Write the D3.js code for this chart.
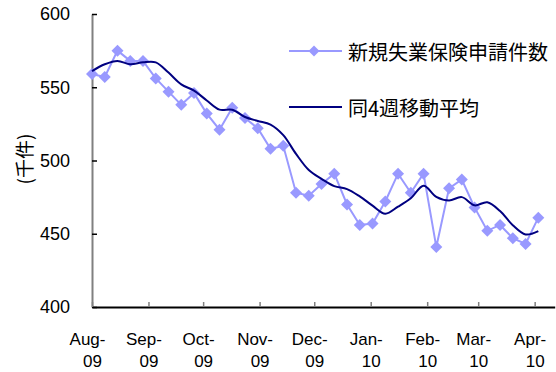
<!DOCTYPE html>
<html>
<head>
<meta charset="utf-8">
<script src="https://cdn.jsdelivr.net/npm/d3@7"></script>
<style>
  html, body { margin: 0; padding: 0; background: #fff; }
  svg { display: block; }
  text { font-family: "Liberation Sans", "Noto Sans CJK JP", sans-serif; fill: #000; }
  .cjk { font-family: "Noto Sans CJK JP", sans-serif; }
</style>
</head>
<body>
<svg id="chart" width="556" height="372"></svg>
<script>
// Weekly initial jobless claims (thousands), week ending Saturday
const weeks = [
  "2009-08-01","2009-08-08","2009-08-15","2009-08-22","2009-08-29",
  "2009-09-05","2009-09-12","2009-09-19","2009-09-26",
  "2009-10-03","2009-10-10","2009-10-17","2009-10-24","2009-10-31",
  "2009-11-07","2009-11-14","2009-11-21","2009-11-28",
  "2009-12-05","2009-12-12","2009-12-19","2009-12-26",
  "2010-01-02","2010-01-09","2010-01-16","2010-01-23","2010-01-30",
  "2010-02-06","2010-02-13","2010-02-20","2010-02-27",
  "2010-03-06","2010-03-13","2010-03-20","2010-03-27","2010-04-03"
];
const claims = [
  559, 557, 575, 568, 568, 556, 547, 538, 546, 532, 521, 536,
  529, 522, 508, 510, 478, 476, 484, 491, 470, 456, 457, 472,
  491, 478, 491, 441, 481, 487, 468, 452, 456, 447, 443, 461
];
const movingAvg = [
  561, 565.7, 568, 565.7, 567, 567, 560, 552, 547.7, 541, 534.7, 534.7,
  529.7, 527, 524.5, 517.3, 504.5, 493.5, 487.5, 482.5, 480.5, 475.5, 469.2, 463.7,
  468.5, 474.2, 482.8, 475.2, 472.7, 475, 469.4, 471.5, 465.5, 455.8, 449.5, 451.8
];
const seriesNames = ["新規失業保険申請件数", "同4週移動平均"];
const yTicks = [400, 450, 500, 550, 600];
const monthTicks = ["2009-08-01","2009-09-01","2009-10-01","2009-11-01","2009-12-01",
                    "2010-01-01","2010-02-01","2010-03-01","2010-04-01"];
const monthLabels = [["Aug-","09"],["Sep-","09"],["Oct-","09"],["Nov-","09"],["Dec-","09"],
                     ["Jan-","10"],["Feb-","10"],["Mar-","10"],["Apr-","10"]];
const yTitle = "(千件)";

const parse = d3.utcParse("%Y-%m-%d");
const dates = weeks.map(parse);
const tickDates = monthTicks.map(parse);

const svg = d3.select("#chart");
const plotLeft = 92, plotRight = 554.7, plotTop = 14, plotBottom = 307;

const x = d3.scaleUtc()
  .domain([parse("2009-08-01"), parse("2010-04-12")])
  .range([plotLeft, plotRight]);
const y = d3.scaleLinear().domain([400, 600]).range([plotBottom, plotTop]);

// Y axis: grey spine, dark inward ticks
const yAxis = svg.append("g")
  .attr("transform", `translate(${plotLeft},0)`)
  .call(d3.axisLeft(y).tickValues(yTicks).tickSizeInner(-5).tickSizeOuter(0).tickPadding(22));
yAxis.select(".domain").attr("stroke", "#808080").attr("stroke-width", 2);
yAxis.selectAll(".tick line").attr("stroke", "#000").attr("stroke-width", 1.5);
yAxis.selectAll(".tick text").attr("font-size", 18).attr("fill", "#000");

// X axis: dark spine, grey inward ticks, two-line month labels
const xAxis = svg.append("g")
  .attr("transform", `translate(0,${plotBottom})`)
  .call(d3.axisBottom(x).tickValues(tickDates).tickSizeInner(-5).tickSizeOuter(0).tickFormat(() => ""));
xAxis.select(".domain").attr("stroke", "#000").attr("stroke-width", 2);
xAxis.selectAll(".tick line").attr("stroke", "#808080").attr("stroke-width", 1.5);
xAxis.selectAll(".tick text").remove();
xAxis.selectAll(".tick").each(function(d, i) {
  const t = d3.select(this).append("text")
    .attr("font-size", 17).attr("text-anchor", "middle").attr("fill", "#000");
  t.append("tspan").attr("x", -5).attr("y", 38).text(monthLabels[i][0]);
  t.append("tspan").attr("x", 0).attr("y", 60).text(monthLabels[i][1]);
});

// Y axis title, rotated
svg.append("text")
  .attr("class", "cjk")
  .attr("transform", "translate(23,159) rotate(-90)")
  .attr("text-anchor", "middle")
  .attr("dominant-baseline", "central")
  .attr("font-size", 19)
  .text(yTitle);

const claimColor = "#9999FF", avgColor = "#000080";
const diamond = r => `M0,${-r}L${r},0L0,${r}L${-r},0Z`;

// Weekly claims: straight segments with diamond markers
svg.append("path")
  .datum(claims)
  .attr("fill", "none")
  .attr("stroke", claimColor)
  .attr("stroke-width", 2)
  .attr("d", d3.line().x((d, i) => x(dates[i])).y(d => y(d)));

svg.append("g").selectAll("path")
  .data(claims)
  .join("path")
  .attr("transform", (d, i) => `translate(${x(dates[i])},${y(d)})`)
  .attr("d", diamond(6))
  .attr("fill", claimColor);

// 4-week moving average: smoothed line
svg.append("path")
  .datum(movingAvg)
  .attr("fill", "none")
  .attr("stroke", avgColor)
  .attr("stroke-width", 2)
  .attr("d", d3.line().curve(d3.curveCatmullRom.alpha(0.5)).x((d, i) => x(dates[i])).y(d => y(d)));

// Legend
const legend = svg.append("g");
const rows = [
  { name: seriesNames[0], color: claimColor, marker: true, cy: 51 },
  { name: seriesNames[1], color: avgColor, marker: false, cy: 107 }
];
rows.forEach(r => {
  legend.append("line")
    .attr("x1", 289).attr("x2", 342).attr("y1", r.cy).attr("y2", r.cy)
    .attr("stroke", r.color).attr("stroke-width", 2);
  if (r.marker) {
    legend.append("path")
      .attr("transform", `translate(314,${r.cy})`)
      .attr("d", diamond(5.5))
      .attr("fill", r.color);
  }
  legend.append("text")
    .attr("class", "cjk")
    .attr("x", 348).attr("y", r.cy)
    .attr("dominant-baseline", "central")
    .attr("font-size", 20)
    .text(r.name);
});
</script>
</body>
</html>
